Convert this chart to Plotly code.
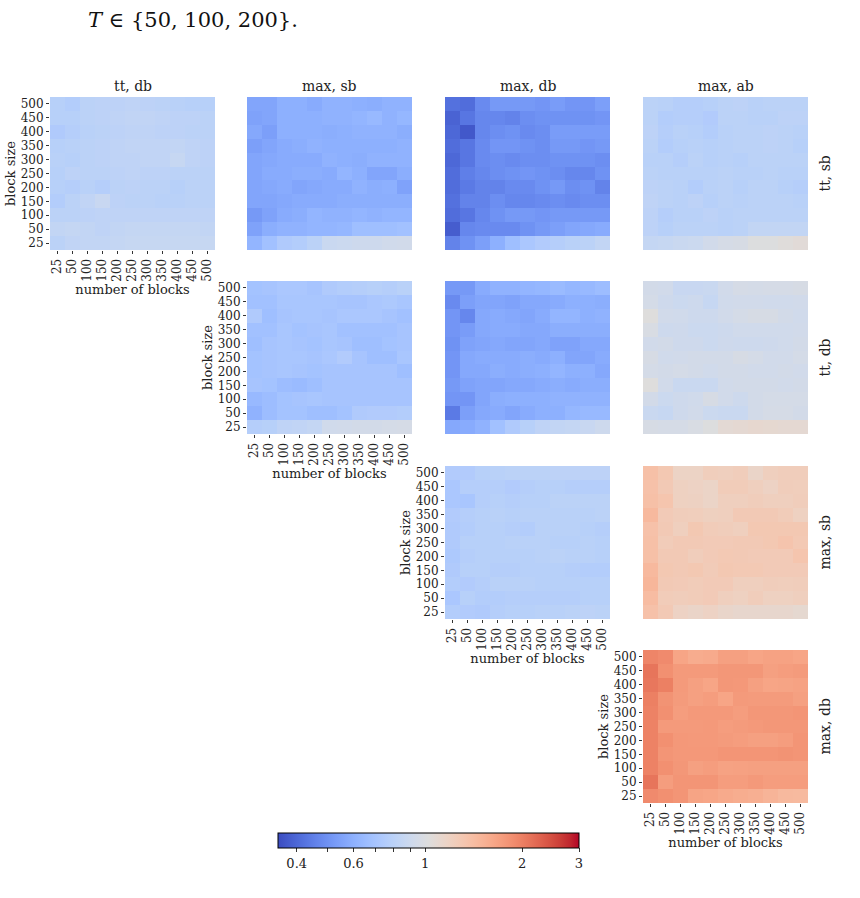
import numpy as np
import plotly.graph_objects as go

# ---------------- data ----------------
num_blocks = ["25", "50", "100", "150", "200", "250", "300", "350", "400", "450", "500"]
block_sizes = ["500", "450", "400", "350", "300", "250", "200", "150", "100", "50", "25"]  # top -> bottom
col_titles = ["tt, db", "max, sb", "max, db", "max, ab"]
row_titles = ["tt, sb", "tt, db", "max, sb", "max, db"]

# ratio values; rows = block size 500..25, cols = number of blocks 25..500
r1c1 = [
    [0.78, 0.76, 0.80, 0.81, 0.81, 0.82, 0.81, 0.80, 0.79, 0.78, 0.78],
    [0.78, 0.78, 0.80, 0.81, 0.82, 0.83, 0.83, 0.82, 0.81, 0.81, 0.80],
    [0.74, 0.77, 0.79, 0.80, 0.81, 0.82, 0.82, 0.81, 0.81, 0.80, 0.80],
    [0.78, 0.79, 0.80, 0.81, 0.82, 0.83, 0.83, 0.83, 0.84, 0.82, 0.81],
    [0.79, 0.78, 0.80, 0.81, 0.82, 0.82, 0.83, 0.83, 0.86, 0.82, 0.81],
    [0.78, 0.81, 0.80, 0.80, 0.81, 0.82, 0.81, 0.81, 0.80, 0.80, 0.80],
    [0.78, 0.77, 0.79, 0.77, 0.80, 0.81, 0.80, 0.80, 0.78, 0.80, 0.80],
    [0.76, 0.80, 0.83, 0.87, 0.81, 0.80, 0.80, 0.79, 0.79, 0.80, 0.80],
    [0.80, 0.80, 0.81, 0.82, 0.82, 0.82, 0.82, 0.82, 0.82, 0.82, 0.82],
    [0.84, 0.85, 0.84, 0.82, 0.84, 0.85, 0.85, 0.85, 0.85, 0.85, 0.84],
    [0.80, 0.83, 0.84, 0.84, 0.85, 0.86, 0.86, 0.86, 0.86, 0.86, 0.86],
]
r1c2 = [
    [0.56, 0.56, 0.60, 0.60, 0.58, 0.61, 0.61, 0.60, 0.59, 0.61, 0.61],
    [0.55, 0.56, 0.60, 0.60, 0.60, 0.61, 0.61, 0.62, 0.64, 0.61, 0.63],
    [0.57, 0.54, 0.60, 0.60, 0.60, 0.59, 0.60, 0.61, 0.61, 0.61, 0.59],
    [0.54, 0.56, 0.58, 0.59, 0.61, 0.60, 0.60, 0.60, 0.60, 0.60, 0.61],
    [0.56, 0.57, 0.58, 0.58, 0.58, 0.61, 0.60, 0.59, 0.61, 0.61, 0.61],
    [0.56, 0.58, 0.58, 0.59, 0.59, 0.58, 0.62, 0.60, 0.56, 0.56, 0.59],
    [0.56, 0.57, 0.58, 0.56, 0.57, 0.58, 0.58, 0.61, 0.59, 0.60, 0.55],
    [0.56, 0.56, 0.57, 0.58, 0.58, 0.58, 0.59, 0.59, 0.59, 0.59, 0.59],
    [0.52, 0.55, 0.58, 0.59, 0.62, 0.61, 0.61, 0.62, 0.61, 0.62, 0.62],
    [0.55, 0.59, 0.61, 0.61, 0.62, 0.62, 0.63, 0.67, 0.67, 0.67, 0.68],
    [0.62, 0.68, 0.74, 0.76, 0.80, 0.88, 0.89, 0.90, 0.90, 0.92, 0.93],
]
r1c3 = [
    [0.42, 0.41, 0.48, 0.52, 0.52, 0.52, 0.51, 0.53, 0.51, 0.51, 0.54],
    [0.39, 0.43, 0.47, 0.47, 0.46, 0.49, 0.50, 0.50, 0.50, 0.50, 0.51],
    [0.40, 0.37, 0.47, 0.49, 0.50, 0.48, 0.49, 0.53, 0.53, 0.53, 0.53],
    [0.41, 0.43, 0.48, 0.51, 0.51, 0.50, 0.49, 0.52, 0.52, 0.51, 0.52],
    [0.40, 0.43, 0.48, 0.49, 0.48, 0.49, 0.49, 0.50, 0.50, 0.50, 0.49],
    [0.41, 0.45, 0.47, 0.49, 0.50, 0.51, 0.50, 0.49, 0.47, 0.47, 0.50],
    [0.41, 0.44, 0.46, 0.46, 0.48, 0.48, 0.50, 0.52, 0.49, 0.50, 0.46],
    [0.42, 0.46, 0.46, 0.49, 0.47, 0.47, 0.48, 0.49, 0.48, 0.49, 0.49],
    [0.41, 0.43, 0.47, 0.50, 0.52, 0.52, 0.51, 0.52, 0.52, 0.52, 0.52],
    [0.38, 0.47, 0.48, 0.48, 0.48, 0.50, 0.52, 0.54, 0.56, 0.57, 0.58],
    [0.46, 0.50, 0.54, 0.60, 0.67, 0.72, 0.75, 0.77, 0.79, 0.80, 0.84],
]
r1c4 = [
    [0.80, 0.79, 0.77, 0.77, 0.78, 0.80, 0.81, 0.79, 0.80, 0.80, 0.80],
    [0.80, 0.76, 0.77, 0.77, 0.75, 0.80, 0.80, 0.79, 0.79, 0.81, 0.81],
    [0.81, 0.77, 0.79, 0.78, 0.76, 0.79, 0.80, 0.80, 0.81, 0.80, 0.79],
    [0.80, 0.76, 0.78, 0.79, 0.78, 0.79, 0.80, 0.80, 0.81, 0.80, 0.78],
    [0.79, 0.79, 0.77, 0.80, 0.78, 0.79, 0.78, 0.80, 0.80, 0.80, 0.80],
    [0.80, 0.79, 0.79, 0.79, 0.79, 0.80, 0.79, 0.79, 0.80, 0.79, 0.79],
    [0.81, 0.80, 0.79, 0.76, 0.79, 0.80, 0.78, 0.80, 0.80, 0.78, 0.77],
    [0.82, 0.80, 0.79, 0.81, 0.78, 0.80, 0.79, 0.80, 0.80, 0.80, 0.79],
    [0.81, 0.77, 0.79, 0.79, 0.81, 0.79, 0.80, 0.80, 0.80, 0.80, 0.80],
    [0.81, 0.78, 0.80, 0.80, 0.80, 0.79, 0.80, 0.84, 0.84, 0.84, 0.84],
    [0.85, 0.86, 0.88, 0.89, 0.93, 0.96, 0.97, 1.02, 1.02, 1.04, 1.06],
]
r2c2 = [
    [0.69, 0.70, 0.72, 0.72, 0.70, 0.74, 0.76, 0.77, 0.78, 0.77, 0.79],
    [0.68, 0.68, 0.71, 0.71, 0.71, 0.71, 0.70, 0.70, 0.72, 0.73, 0.71],
    [0.74, 0.67, 0.70, 0.71, 0.71, 0.70, 0.72, 0.72, 0.72, 0.70, 0.68],
    [0.68, 0.68, 0.71, 0.69, 0.70, 0.71, 0.68, 0.68, 0.68, 0.68, 0.70],
    [0.67, 0.70, 0.71, 0.70, 0.69, 0.71, 0.70, 0.67, 0.67, 0.69, 0.70],
    [0.69, 0.70, 0.71, 0.71, 0.70, 0.72, 0.75, 0.70, 0.67, 0.67, 0.71],
    [0.69, 0.70, 0.71, 0.70, 0.69, 0.70, 0.70, 0.70, 0.70, 0.70, 0.67],
    [0.70, 0.69, 0.66, 0.65, 0.67, 0.70, 0.70, 0.70, 0.70, 0.70, 0.70],
    [0.64, 0.66, 0.69, 0.70, 0.71, 0.70, 0.70, 0.70, 0.70, 0.70, 0.70],
    [0.61, 0.66, 0.69, 0.69, 0.67, 0.67, 0.69, 0.74, 0.75, 0.75, 0.76],
    [0.77, 0.78, 0.82, 0.83, 0.85, 0.92, 0.93, 0.94, 0.94, 0.95, 0.96],
]
r2c3 = [
    [0.52, 0.52, 0.58, 0.61, 0.61, 0.62, 0.63, 0.65, 0.63, 0.64, 0.66],
    [0.48, 0.54, 0.56, 0.56, 0.55, 0.57, 0.57, 0.58, 0.60, 0.60, 0.59],
    [0.51, 0.47, 0.57, 0.58, 0.57, 0.56, 0.58, 0.62, 0.62, 0.60, 0.61],
    [0.51, 0.53, 0.57, 0.58, 0.58, 0.57, 0.57, 0.59, 0.59, 0.59, 0.59],
    [0.50, 0.55, 0.56, 0.57, 0.56, 0.56, 0.57, 0.55, 0.55, 0.57, 0.57],
    [0.51, 0.57, 0.58, 0.58, 0.58, 0.59, 0.58, 0.60, 0.56, 0.56, 0.58],
    [0.51, 0.57, 0.57, 0.59, 0.58, 0.59, 0.60, 0.62, 0.60, 0.60, 0.57],
    [0.52, 0.55, 0.56, 0.56, 0.57, 0.57, 0.58, 0.59, 0.58, 0.59, 0.59],
    [0.51, 0.51, 0.56, 0.59, 0.60, 0.60, 0.60, 0.61, 0.61, 0.61, 0.61],
    [0.44, 0.54, 0.57, 0.58, 0.56, 0.58, 0.60, 0.60, 0.63, 0.64, 0.64],
    [0.57, 0.58, 0.61, 0.68, 0.74, 0.78, 0.82, 0.84, 0.85, 0.87, 0.90],
]
r2c4 = [
    [0.94, 0.93, 0.87, 0.87, 0.88, 0.93, 0.96, 0.95, 0.96, 0.96, 0.97],
    [0.95, 0.91, 0.89, 0.90, 0.86, 0.92, 0.93, 0.93, 0.92, 0.92, 0.93],
    [1.03, 0.93, 0.92, 0.90, 0.90, 0.93, 0.95, 0.97, 0.97, 0.94, 0.92],
    [0.98, 0.90, 0.91, 0.89, 0.89, 0.90, 0.92, 0.92, 0.92, 0.92, 0.93],
    [0.93, 0.94, 0.91, 0.91, 0.89, 0.91, 0.90, 0.90, 0.91, 0.92, 0.94],
    [0.97, 0.92, 0.93, 0.94, 0.94, 0.94, 0.97, 0.95, 0.93, 0.93, 0.95],
    [0.95, 0.94, 0.95, 0.94, 0.92, 0.94, 0.94, 0.93, 0.93, 0.94, 0.93],
    [1.03, 0.93, 0.88, 0.88, 0.88, 0.93, 0.94, 0.94, 0.94, 0.93, 0.94],
    [0.94, 0.89, 0.91, 0.92, 0.97, 0.93, 0.90, 0.94, 0.95, 0.95, 0.95],
    [0.88, 0.86, 0.91, 0.93, 0.89, 0.88, 0.88, 0.94, 0.96, 0.96, 0.94],
    [0.97, 0.96, 0.96, 0.98, 1.02, 1.08, 1.09, 1.11, 1.10, 1.09, 1.09],
]
r3c3 = [
    [0.75, 0.75, 0.78, 0.79, 0.80, 0.80, 0.80, 0.81, 0.81, 0.81, 0.81],
    [0.72, 0.77, 0.77, 0.77, 0.75, 0.77, 0.78, 0.78, 0.77, 0.77, 0.77],
    [0.72, 0.71, 0.77, 0.78, 0.77, 0.78, 0.78, 0.80, 0.80, 0.80, 0.80],
    [0.75, 0.77, 0.78, 0.79, 0.78, 0.79, 0.79, 0.79, 0.79, 0.79, 0.80],
    [0.74, 0.76, 0.78, 0.78, 0.77, 0.76, 0.79, 0.79, 0.79, 0.78, 0.77],
    [0.74, 0.78, 0.78, 0.78, 0.79, 0.79, 0.79, 0.78, 0.78, 0.79, 0.78],
    [0.73, 0.77, 0.78, 0.78, 0.78, 0.78, 0.79, 0.80, 0.79, 0.79, 0.78],
    [0.74, 0.78, 0.78, 0.77, 0.77, 0.78, 0.78, 0.78, 0.77, 0.76, 0.76],
    [0.76, 0.75, 0.77, 0.79, 0.79, 0.79, 0.78, 0.78, 0.78, 0.78, 0.78],
    [0.72, 0.78, 0.76, 0.76, 0.77, 0.77, 0.77, 0.77, 0.77, 0.78, 0.78],
    [0.76, 0.75, 0.74, 0.77, 0.78, 0.78, 0.79, 0.79, 0.80, 0.81, 0.80],
]
r3c4 = [
    [1.38, 1.30, 1.17, 1.17, 1.23, 1.22, 1.24, 1.15, 1.22, 1.24, 1.24],
    [1.37, 1.28, 1.20, 1.18, 1.16, 1.25, 1.25, 1.22, 1.18, 1.24, 1.23],
    [1.38, 1.33, 1.20, 1.19, 1.16, 1.22, 1.22, 1.24, 1.22, 1.22, 1.24],
    [1.45, 1.27, 1.24, 1.23, 1.21, 1.22, 1.28, 1.28, 1.28, 1.25, 1.20],
    [1.37, 1.28, 1.22, 1.30, 1.25, 1.24, 1.22, 1.30, 1.30, 1.30, 1.30],
    [1.38, 1.25, 1.28, 1.28, 1.27, 1.27, 1.28, 1.28, 1.30, 1.34, 1.29],
    [1.38, 1.28, 1.28, 1.24, 1.27, 1.29, 1.28, 1.27, 1.27, 1.27, 1.33],
    [1.45, 1.30, 1.28, 1.30, 1.26, 1.30, 1.29, 1.29, 1.27, 1.27, 1.27],
    [1.48, 1.28, 1.27, 1.25, 1.27, 1.27, 1.22, 1.22, 1.24, 1.23, 1.24],
    [1.42, 1.25, 1.24, 1.25, 1.27, 1.22, 1.20, 1.24, 1.20, 1.20, 1.22],
    [1.37, 1.28, 1.18, 1.15, 1.18, 1.14, 1.12, 1.12, 1.12, 1.12, 1.10],
]
r4c4 = [
    [1.95, 1.90, 1.65, 1.58, 1.60, 1.70, 1.70, 1.65, 1.68, 1.68, 1.65],
    [2.10, 1.85, 1.75, 1.75, 1.75, 1.78, 1.78, 1.78, 1.70, 1.72, 1.74],
    [2.08, 2.00, 1.75, 1.70, 1.65, 1.78, 1.77, 1.70, 1.65, 1.66, 1.68],
    [2.00, 1.82, 1.74, 1.70, 1.72, 1.65, 1.75, 1.74, 1.74, 1.74, 1.70],
    [1.98, 1.85, 1.72, 1.76, 1.76, 1.76, 1.72, 1.78, 1.78, 1.78, 1.80],
    [1.98, 1.75, 1.75, 1.75, 1.76, 1.72, 1.74, 1.76, 1.78, 1.78, 1.78],
    [1.98, 1.85, 1.77, 1.76, 1.76, 1.74, 1.72, 1.70, 1.70, 1.72, 1.80],
    [1.98, 1.80, 1.77, 1.77, 1.77, 1.80, 1.80, 1.80, 1.80, 1.82, 1.80],
    [1.98, 1.85, 1.78, 1.70, 1.72, 1.68, 1.69, 1.70, 1.70, 1.70, 1.70],
    [2.10, 1.72, 1.80, 1.80, 1.80, 1.72, 1.72, 1.76, 1.72, 1.72, 1.72],
    [1.90, 1.85, 1.80, 1.66, 1.64, 1.60, 1.57, 1.55, 1.50, 1.45, 1.44],
]

panels = {
    (0, 0): r1c1, (0, 1): r1c2, (0, 2): r1c3, (0, 3): r1c4,
    (1, 1): r2c2, (1, 2): r2c3, (1, 3): r2c4,
    (2, 2): r3c3, (2, 3): r3c4,
    (3, 3): r4c4,
}

cbar_ticks = [0.4, 0.5, 0.6, 0.7, 0.8, 0.9, 1, 2, 3]
cbar_labels = ["0.4", "", "0.6", "", "", "", "1", "2", "3"]
vmin, vmax = 0.35, 3.0

# ---------------- styling ----------------
coolwarm_pts = [
    (0, 59, 76, 192), (0.03125, 68, 90, 204), (0.0625, 77, 104, 215), (0.09375, 87, 117, 225),
    (0.125, 98, 130, 234), (0.15625, 108, 142, 241), (0.1875, 119, 154, 247), (0.21875, 130, 165, 251),
    (0.25, 141, 176, 254), (0.28125, 152, 185, 255), (0.3125, 163, 194, 255), (0.34375, 174, 201, 253),
    (0.375, 184, 208, 249), (0.40625, 194, 213, 244), (0.4375, 204, 217, 238), (0.46875, 213, 219, 230),
    (0.5, 221, 221, 221), (0.53125, 229, 216, 209), (0.5625, 236, 211, 197), (0.59375, 241, 204, 185),
    (0.625, 245, 196, 173), (0.65625, 247, 187, 160), (0.6875, 247, 177, 148), (0.71875, 247, 166, 135),
    (0.75, 244, 154, 123), (0.78125, 241, 141, 111), (0.8125, 236, 127, 99), (0.84375, 229, 112, 88),
    (0.875, 222, 96, 77), (0.90625, 213, 80, 66), (0.9375, 203, 62, 56), (0.96875, 192, 40, 47),
    (1.0, 180, 4, 38),
]
colorscale = [[p[0], f"rgb({p[1]},{p[2]},{p[3]})"] for p in coolwarm_pts]

W, H = 860, 898
col_px = [(50, 215), (247, 412), (445, 610), (643, 808)]
row_px = [(97, 250), (281, 434), (466, 619), (650, 803)]
FONT = "DejaVu Serif"
TXT = "#222222"

fig = go.Figure()
k = 0
for (r, c), vals in panels.items():
    k += 1
    xa = "x" if k == 1 else f"x{k}"
    ya = "y" if k == 1 else f"y{k}"
    fig.add_trace(go.Heatmap(
        z=np.log10(np.array(vals)), x=num_blocks, y=block_sizes,
        coloraxis="coloraxis", xaxis=xa, yaxis=ya,
        customdata=np.array(vals),
        hovertemplate="blocks %{x}<br>size %{y}<br>%{customdata:.2f}<extra></extra>",
    ))
    diag = (r == c)
    x0, x1 = col_px[c]
    y0, y1 = row_px[r]
    xkey = "xaxis" if k == 1 else f"xaxis{k}"
    ykey = "yaxis" if k == 1 else f"yaxis{k}"
    fig.update_layout(**{
        xkey: dict(
            domain=[x0 / W, x1 / W], anchor=ya, type="category",
            tickmode="array", tickvals=num_blocks, ticktext=num_blocks,
            showgrid=False, zeroline=False, showline=False,
            showticklabels=diag, ticks="outside" if diag else "",
            ticklen=3, tickwidth=1, tickcolor="#333",
            tickangle=-90, tickfont=dict(family=FONT, size=12, color=TXT),
            title=dict(text="number of blocks" if diag else "", standoff=1,
                       font=dict(family=FONT, size=13, color=TXT)),
        ),
        ykey: dict(
            domain=[1 - y1 / H, 1 - y0 / H], anchor=xa, type="category",
            autorange="reversed",
            tickmode="array", tickvals=block_sizes, ticktext=block_sizes,
            showgrid=False, zeroline=False, showline=False,
            showticklabels=diag, ticks="outside" if diag else "",
            ticklen=3, tickwidth=1, tickcolor="#333",
            tickfont=dict(family=FONT, size=12, color=TXT),
            title=dict(text="block size" if diag else "", standoff=2,
                       font=dict(family=FONT, size=13, color=TXT)),
        ),
    })

annotations = []
for c, t in enumerate(col_titles):
    x0, x1 = col_px[c]
    annotations.append(dict(
        text=t, x=(x0 + x1) / 2 / W, y=1 - (row_px[0][0] - 1) / H,
        xref="paper", yref="paper", xanchor="center", yanchor="bottom",
        showarrow=False, font=dict(family=FONT, size=14, color=TXT)))
for r, t in enumerate(row_titles):
    y0, y1 = row_px[r]
    annotations.append(dict(
        text=t, x=824 / W, y=1 - (y0 + y1) / 2 / H,
        xref="paper", yref="paper", xanchor="center", yanchor="middle",
        textangle=-90, showarrow=False, font=dict(family=FONT, size=14, color=TXT)))
annotations.append(dict(
    text="<i>T</i> ∈ {50, 100, 200}.", x=86 / W, y=1 - 20 / H,
    xref="paper", yref="paper", xanchor="left", yanchor="middle",
    showarrow=False, font=dict(family=FONT, size=21, color="#111")))

fig.update_layout(
    width=W, height=H,
    margin=dict(l=0, r=0, t=0, b=0),
    paper_bgcolor="white", plot_bgcolor="white",
    showlegend=False,
    annotations=annotations,
    coloraxis=dict(
        colorscale=colorscale, cmin=np.log10(vmin), cmax=np.log10(vmax),
        colorbar=dict(
            orientation="h", x=428.5 / W, xanchor="center",
            y=1 - 833 / H, yanchor="top",
            len=301 / W, lenmode="fraction", thickness=15,
            xpad=0, ypad=0,
            outlinewidth=1, outlinecolor="black",
            tickmode="array", tickvals=list(np.log10(cbar_ticks)), ticktext=cbar_labels,
            ticks="outside", ticklen=4, tickcolor="#333",
            tickfont=dict(family=FONT, size=13, color=TXT),
        ),
    ),
)

fig.write_html("out.html")
